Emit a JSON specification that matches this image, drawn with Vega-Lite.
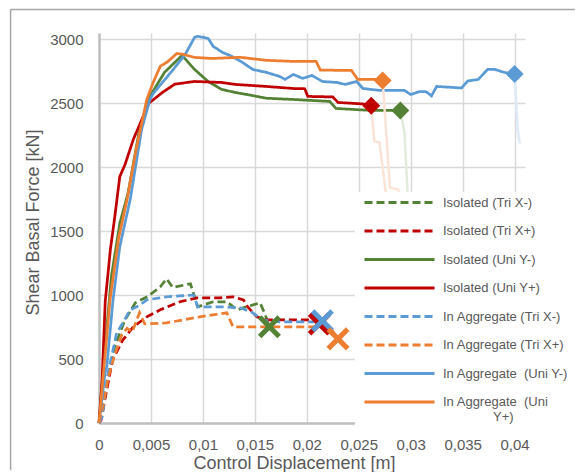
{
  "$schema": "https://vega.github.io/schema/vega-lite/v6.json",
  "autosize": {"type": "none"},
  "padding": {"left": 99, "top": 33, "right": 51, "bottom": 49},
  "width": 426,
  "height": 390,
  "background": "white",
  "config": {
    "view": {"stroke": null},
    "font": "Liberation Sans",
    "axis": {
      "grid": true,
      "gridColor": "#d9d9d9", "gridWidth": 1.5,
      "domainColor": "#bfbfbf", "domainWidth": 2.5,
      "ticks": false, "tickSize": 0,
      "labelFont": "Liberation Sans", "labelFontSize": 15, "labelColor": "#595959",
      "titleFont": "Liberation Sans", "titleFontSize": 18, "titleColor": "#595959", "titleFontWeight": "normal"
    }
  },
  "datasets": {
    "frame": [
      {"x": -0.00851, "x2": 0.0458, "y": 3234, "y2": -370}
    ],
    "lines": [
      {"s": "Isolated (Tri X-)", "x": 0, "y": 0},
      {"s": "Isolated (Tri X-)", "x": 0.0001, "y": 47},
      {"s": "Isolated (Tri X-)", "x": 0.0009, "y": 360},
      {"s": "Isolated (Tri X-)", "x": 0.0015, "y": 595},
      {"s": "Isolated (Tri X-)", "x": 0.0025, "y": 806},
      {"s": "Isolated (Tri X-)", "x": 0.0035, "y": 940},
      {"s": "Isolated (Tri X-)", "x": 0.0047, "y": 990},
      {"s": "Isolated (Tri X-)", "x": 0.0059, "y": 1065},
      {"s": "Isolated (Tri X-)", "x": 0.0065, "y": 1128},
      {"s": "Isolated (Tri X-)", "x": 0.0071, "y": 1060},
      {"s": "Isolated (Tri X-)", "x": 0.0088, "y": 1089},
      {"s": "Isolated (Tri X-)", "x": 0.0092, "y": 987},
      {"s": "Isolated (Tri X-)", "x": 0.0095, "y": 909},
      {"s": "Isolated (Tri X-)", "x": 0.011, "y": 948},
      {"s": "Isolated (Tri X-)", "x": 0.0123, "y": 948},
      {"s": "Isolated (Tri X-)", "x": 0.0133, "y": 885},
      {"s": "Isolated (Tri X-)", "x": 0.0142, "y": 909},
      {"s": "Isolated (Tri X-)", "x": 0.0155, "y": 940},
      {"s": "Isolated (Tri X-)", "x": 0.016, "y": 846},
      {"s": "Isolated (Tri X-)", "x": 0.0164, "y": 752},

      {"s": "Isolated (Tri X+)", "x": 0, "y": 0},
      {"s": "Isolated (Tri X+)", "x": 0.0002, "y": 23},
      {"s": "Isolated (Tri X+)", "x": 0.0008, "y": 282},
      {"s": "Isolated (Tri X+)", "x": 0.0013, "y": 493},
      {"s": "Isolated (Tri X+)", "x": 0.0023, "y": 650},
      {"s": "Isolated (Tri X+)", "x": 0.0033, "y": 752},
      {"s": "Isolated (Tri X+)", "x": 0.0046, "y": 830},
      {"s": "Isolated (Tri X+)", "x": 0.0059, "y": 885},
      {"s": "Isolated (Tri X+)", "x": 0.0078, "y": 948},
      {"s": "Isolated (Tri X+)", "x": 0.0094, "y": 979},
      {"s": "Isolated (Tri X+)", "x": 0.0116, "y": 979},
      {"s": "Isolated (Tri X+)", "x": 0.0129, "y": 987},
      {"s": "Isolated (Tri X+)", "x": 0.0139, "y": 963},
      {"s": "Isolated (Tri X+)", "x": 0.0143, "y": 909},
      {"s": "Isolated (Tri X+)", "x": 0.0152, "y": 830},
      {"s": "Isolated (Tri X+)", "x": 0.0161, "y": 807},
      {"s": "Isolated (Tri X+)", "x": 0.0206, "y": 807},
      {"s": "Isolated (Tri X+)", "x": 0.0212, "y": 775},

      {"s": "Isolated (Uni Y-)", "x": 0, "y": 0},
      {"s": "Isolated (Uni Y-)", "x": 0.0005, "y": 520},
      {"s": "Isolated (Uni Y-)", "x": 0.0012, "y": 1150},
      {"s": "Isolated (Uni Y-)", "x": 0.002, "y": 1560},
      {"s": "Isolated (Uni Y-)", "x": 0.0028, "y": 1800},
      {"s": "Isolated (Uni Y-)", "x": 0.0038, "y": 2250},
      {"s": "Isolated (Uni Y-)", "x": 0.0049, "y": 2554},
      {"s": "Isolated (Uni Y-)", "x": 0.0063, "y": 2742},
      {"s": "Isolated (Uni Y-)", "x": 0.008, "y": 2875},
      {"s": "Isolated (Uni Y-)", "x": 0.0092, "y": 2765},
      {"s": "Isolated (Uni Y-)", "x": 0.0105, "y": 2671},
      {"s": "Isolated (Uni Y-)", "x": 0.0118, "y": 2609},
      {"s": "Isolated (Uni Y-)", "x": 0.0131, "y": 2585},
      {"s": "Isolated (Uni Y-)", "x": 0.0145, "y": 2565},
      {"s": "Isolated (Uni Y-)", "x": 0.0161, "y": 2540},
      {"s": "Isolated (Uni Y-)", "x": 0.0187, "y": 2530},
      {"s": "Isolated (Uni Y-)", "x": 0.0222, "y": 2515},
      {"s": "Isolated (Uni Y-)", "x": 0.0228, "y": 2460},
      {"s": "Isolated (Uni Y-)", "x": 0.0258, "y": 2446},
      {"s": "Isolated (Uni Y-)", "x": 0.029, "y": 2444},

      {"s": "Isolated (Uni Y+)", "x": 0, "y": 0},
      {"s": "Isolated (Uni Y+)", "x": 0.0003, "y": 330},
      {"s": "Isolated (Uni Y+)", "x": 0.0006, "y": 950},
      {"s": "Isolated (Uni Y+)", "x": 0.0011, "y": 1360},
      {"s": "Isolated (Uni Y+)", "x": 0.0015, "y": 1600},
      {"s": "Isolated (Uni Y+)", "x": 0.002, "y": 1927},
      {"s": "Isolated (Uni Y+)", "x": 0.0025, "y": 2020},
      {"s": "Isolated (Uni Y+)", "x": 0.0033, "y": 2217},
      {"s": "Isolated (Uni Y+)", "x": 0.004, "y": 2350},
      {"s": "Isolated (Uni Y+)", "x": 0.0048, "y": 2500},
      {"s": "Isolated (Uni Y+)", "x": 0.0061, "y": 2585},
      {"s": "Isolated (Uni Y+)", "x": 0.0073, "y": 2650},
      {"s": "Isolated (Uni Y+)", "x": 0.0092, "y": 2671},
      {"s": "Isolated (Uni Y+)", "x": 0.0118, "y": 2663},
      {"s": "Isolated (Uni Y+)", "x": 0.0131, "y": 2648},
      {"s": "Isolated (Uni Y+)", "x": 0.0161, "y": 2632},
      {"s": "Isolated (Uni Y+)", "x": 0.0187, "y": 2616},
      {"s": "Isolated (Uni Y+)", "x": 0.0198, "y": 2614},
      {"s": "Isolated (Uni Y+)", "x": 0.0201, "y": 2554},
      {"s": "Isolated (Uni Y+)", "x": 0.0225, "y": 2550},
      {"s": "Isolated (Uni Y+)", "x": 0.023, "y": 2507},
      {"s": "Isolated (Uni Y+)", "x": 0.0254, "y": 2495},
      {"s": "Isolated (Uni Y+)", "x": 0.0262, "y": 2482},

      {"s": "In Aggregate (Tri X-)", "x": 0, "y": 0},
      {"s": "In Aggregate (Tri X-)", "x": 0.0003, "y": 47},
      {"s": "In Aggregate (Tri X-)", "x": 0.0008, "y": 360},
      {"s": "In Aggregate (Tri X-)", "x": 0.0017, "y": 705},
      {"s": "In Aggregate (Tri X-)", "x": 0.0022, "y": 770},
      {"s": "In Aggregate (Tri X-)", "x": 0.003, "y": 885},
      {"s": "In Aggregate (Tri X-)", "x": 0.0039, "y": 920},
      {"s": "In Aggregate (Tri X-)", "x": 0.0046, "y": 963},
      {"s": "In Aggregate (Tri X-)", "x": 0.0065, "y": 987},
      {"s": "In Aggregate (Tri X-)", "x": 0.0091, "y": 1002},
      {"s": "In Aggregate (Tri X-)", "x": 0.0095, "y": 909},
      {"s": "In Aggregate (Tri X-)", "x": 0.0116, "y": 909},
      {"s": "In Aggregate (Tri X-)", "x": 0.0136, "y": 901},
      {"s": "In Aggregate (Tri X-)", "x": 0.0148, "y": 862},
      {"s": "In Aggregate (Tri X-)", "x": 0.0157, "y": 807},
      {"s": "In Aggregate (Tri X-)", "x": 0.0174, "y": 791},
      {"s": "In Aggregate (Tri X-)", "x": 0.0206, "y": 791},
      {"s": "In Aggregate (Tri X-)", "x": 0.0215, "y": 800},

      {"s": "In Aggregate (Tri X+)", "x": 0, "y": 0},
      {"s": "In Aggregate (Tri X+)", "x": 0.0004, "y": 140},
      {"s": "In Aggregate (Tri X+)", "x": 0.0009, "y": 360},
      {"s": "In Aggregate (Tri X+)", "x": 0.0015, "y": 530},
      {"s": "In Aggregate (Tri X+)", "x": 0.0022, "y": 690},
      {"s": "In Aggregate (Tri X+)", "x": 0.0027, "y": 740},
      {"s": "In Aggregate (Tri X+)", "x": 0.0032, "y": 713},
      {"s": "In Aggregate (Tri X+)", "x": 0.0039, "y": 862},
      {"s": "In Aggregate (Tri X+)", "x": 0.0044, "y": 775},
      {"s": "In Aggregate (Tri X+)", "x": 0.0065, "y": 783},
      {"s": "In Aggregate (Tri X+)", "x": 0.0097, "y": 830},
      {"s": "In Aggregate (Tri X+)", "x": 0.0123, "y": 862},
      {"s": "In Aggregate (Tri X+)", "x": 0.0129, "y": 752},
      {"s": "In Aggregate (Tri X+)", "x": 0.0161, "y": 752},
      {"s": "In Aggregate (Tri X+)", "x": 0.0193, "y": 752},
      {"s": "In Aggregate (Tri X+)", "x": 0.0222, "y": 752},
      {"s": "In Aggregate (Tri X+)", "x": 0.023, "y": 658},

      {"s": "In Aggregate  (Uni Y-)", "x": 0, "y": 0},
      {"s": "In Aggregate  (Uni Y-)", "x": 0.0003, "y": 200},
      {"s": "In Aggregate  (Uni Y-)", "x": 0.00058, "y": 392},
      {"s": "In Aggregate  (Uni Y-)", "x": 0.00075, "y": 440},
      {"s": "In Aggregate  (Uni Y-)", "x": 0.00135, "y": 963},
      {"s": "In Aggregate  (Uni Y-)", "x": 0.002, "y": 1380},
      {"s": "In Aggregate  (Uni Y-)", "x": 0.003, "y": 1747},
      {"s": "In Aggregate  (Uni Y-)", "x": 0.0041, "y": 2295},
      {"s": "In Aggregate  (Uni Y-)", "x": 0.0049, "y": 2530},
      {"s": "In Aggregate  (Uni Y-)", "x": 0.0052, "y": 2575},
      {"s": "In Aggregate  (Uni Y-)", "x": 0.0061, "y": 2663},
      {"s": "In Aggregate  (Uni Y-)", "x": 0.007, "y": 2750},
      {"s": "In Aggregate  (Uni Y-)", "x": 0.0083, "y": 2883},
      {"s": "In Aggregate  (Uni Y-)", "x": 0.0092, "y": 3016},
      {"s": "In Aggregate  (Uni Y-)", "x": 0.0095, "y": 3024},
      {"s": "In Aggregate  (Uni Y-)", "x": 0.0105, "y": 3008},
      {"s": "In Aggregate  (Uni Y-)", "x": 0.011, "y": 2945},
      {"s": "In Aggregate  (Uni Y-)", "x": 0.0119, "y": 2898},
      {"s": "In Aggregate  (Uni Y-)", "x": 0.0128, "y": 2867},
      {"s": "In Aggregate  (Uni Y-)", "x": 0.0138, "y": 2820},
      {"s": "In Aggregate  (Uni Y-)", "x": 0.0148, "y": 2765},
      {"s": "In Aggregate  (Uni Y-)", "x": 0.0161, "y": 2742},
      {"s": "In Aggregate  (Uni Y-)", "x": 0.0174, "y": 2710},
      {"s": "In Aggregate  (Uni Y-)", "x": 0.0179, "y": 2687},
      {"s": "In Aggregate  (Uni Y-)", "x": 0.0187, "y": 2726},
      {"s": "In Aggregate  (Uni Y-)", "x": 0.0196, "y": 2695},
      {"s": "In Aggregate  (Uni Y-)", "x": 0.0205, "y": 2718},
      {"s": "In Aggregate  (Uni Y-)", "x": 0.0215, "y": 2671},
      {"s": "In Aggregate  (Uni Y-)", "x": 0.0229, "y": 2663},
      {"s": "In Aggregate  (Uni Y-)", "x": 0.0237, "y": 2648},
      {"s": "In Aggregate  (Uni Y-)", "x": 0.0248, "y": 2671},
      {"s": "In Aggregate  (Uni Y-)", "x": 0.0254, "y": 2616},
      {"s": "In Aggregate  (Uni Y-)", "x": 0.027, "y": 2601},
      {"s": "In Aggregate  (Uni Y-)", "x": 0.0294, "y": 2601},
      {"s": "In Aggregate  (Uni Y-)", "x": 0.03, "y": 2569},
      {"s": "In Aggregate  (Uni Y-)", "x": 0.0309, "y": 2593},
      {"s": "In Aggregate  (Uni Y-)", "x": 0.0315, "y": 2590},
      {"s": "In Aggregate  (Uni Y-)", "x": 0.032, "y": 2558},
      {"s": "In Aggregate  (Uni Y-)", "x": 0.0325, "y": 2632},
      {"s": "In Aggregate  (Uni Y-)", "x": 0.0349, "y": 2620},
      {"s": "In Aggregate  (Uni Y-)", "x": 0.0355, "y": 2675},
      {"s": "In Aggregate  (Uni Y-)", "x": 0.0365, "y": 2687},
      {"s": "In Aggregate  (Uni Y-)", "x": 0.0374, "y": 2765},
      {"s": "In Aggregate  (Uni Y-)", "x": 0.0381, "y": 2765},
      {"s": "In Aggregate  (Uni Y-)", "x": 0.039, "y": 2742},
      {"s": "In Aggregate  (Uni Y-)", "x": 0.04, "y": 2730},

      {"s": "In Aggregate  (Uni Y+)", "x": 0, "y": 0},
      {"s": "In Aggregate  (Uni Y+)", "x": 0.00048, "y": 440},
      {"s": "In Aggregate  (Uni Y+)", "x": 0.00106, "y": 963},
      {"s": "In Aggregate  (Uni Y+)", "x": 0.0019, "y": 1450},
      {"s": "In Aggregate  (Uni Y+)", "x": 0.0027, "y": 1747},
      {"s": "In Aggregate  (Uni Y+)", "x": 0.0036, "y": 2150},
      {"s": "In Aggregate  (Uni Y+)", "x": 0.0046, "y": 2530},
      {"s": "In Aggregate  (Uni Y+)", "x": 0.0052, "y": 2660},
      {"s": "In Aggregate  (Uni Y+)", "x": 0.0059, "y": 2790},
      {"s": "In Aggregate  (Uni Y+)", "x": 0.0066, "y": 2825},
      {"s": "In Aggregate  (Uni Y+)", "x": 0.0075, "y": 2890},
      {"s": "In Aggregate  (Uni Y+)", "x": 0.008, "y": 2885},
      {"s": "In Aggregate  (Uni Y+)", "x": 0.0092, "y": 2859},
      {"s": "In Aggregate  (Uni Y+)", "x": 0.0109, "y": 2851},
      {"s": "In Aggregate  (Uni Y+)", "x": 0.0136, "y": 2860},
      {"s": "In Aggregate  (Uni Y+)", "x": 0.0161, "y": 2836},
      {"s": "In Aggregate  (Uni Y+)", "x": 0.0187, "y": 2828},
      {"s": "In Aggregate  (Uni Y+)", "x": 0.0209, "y": 2828},
      {"s": "In Aggregate  (Uni Y+)", "x": 0.0213, "y": 2760},
      {"s": "In Aggregate  (Uni Y+)", "x": 0.0243, "y": 2757},
      {"s": "In Aggregate  (Uni Y+)", "x": 0.0249, "y": 2687},
      {"s": "In Aggregate  (Uni Y+)", "x": 0.0267, "y": 2687},
      {"s": "In Aggregate  (Uni Y+)", "x": 0.0273, "y": 2679}
    ],
    "collapse": [
      {"s": "Isolated (Uni Y-)", "x": 0.029, "y": 2444},
      {"s": "Isolated (Uni Y-)", "x": 0.0294, "y": 2272},
      {"s": "Isolated (Uni Y-)", "x": 0.0297, "y": 1801},
      {"s": "Isolated (Uni Y-)", "x": 0.03, "y": 1000},
      {"s": "Isolated (Uni Y-)", "x": 0.0302, "y": 500},
      {"s": "Isolated (Uni Y+)", "x": 0.0262, "y": 2482},
      {"s": "Isolated (Uni Y+)", "x": 0.0265, "y": 2201},
      {"s": "Isolated (Uni Y+)", "x": 0.027, "y": 2193},
      {"s": "Isolated (Uni Y+)", "x": 0.0276, "y": 1801},
      {"s": "Isolated (Uni Y+)", "x": 0.028, "y": 1200},
      {"s": "Isolated (Uni Y+)", "x": 0.0283, "y": 600},
      {"s": "In Aggregate  (Uni Y-)", "x": 0.04, "y": 2730},
      {"s": "In Aggregate  (Uni Y-)", "x": 0.0403, "y": 2295},
      {"s": "In Aggregate  (Uni Y-)", "x": 0.0405, "y": 2185},
      {"s": "In Aggregate  (Uni Y+)", "x": 0.0273, "y": 2679},
      {"s": "In Aggregate  (Uni Y+)", "x": 0.028, "y": 1841},
      {"s": "In Aggregate  (Uni Y+)", "x": 0.0288, "y": 1825},
      {"s": "In Aggregate  (Uni Y+)", "x": 0.0289, "y": 1801},
      {"s": "In Aggregate  (Uni Y+)", "x": 0.0292, "y": 1200},
      {"s": "In Aggregate  (Uni Y+)", "x": 0.0295, "y": 600}
    ],
    "diamonds": [
      {"s": "Isolated (Uni Y+)", "x": 0.0262, "y": 2482},
      {"s": "In Aggregate  (Uni Y+)", "x": 0.0273, "y": 2679},
      {"s": "Isolated (Uni Y-)", "x": 0.029, "y": 2444},
      {"s": "In Aggregate  (Uni Y-)", "x": 0.04, "y": 2730}
    ],
    "crosses": [
      {"s": "Isolated (Tri X-)", "x": 0.0164, "y": 752},
      {"s": "Isolated (Tri X+)", "x": 0.0212, "y": 775},
      {"s": "In Aggregate (Tri X-)", "x": 0.0215, "y": 800},
      {"s": "In Aggregate (Tri X+)", "x": 0.023, "y": 658}
    ]
  },
  "encoding": {
    "x": {"field": "x", "type": "quantitative", "scale": {"domain": [0, 0.041], "nice": false, "zero": false},
      "axis": {"grid": true, "values": [0, 0.005, 0.01, 0.015, 0.02, 0.025, 0.03, 0.035, 0.04],
               "labelExpr": "replace(format(datum.value, '.3~f'), '.', ',')", "labelFlush": false,
               "labelPadding": 14, "title": "Control Displacement [m]",
               "titleX": 195, "titleY": 45, "titleBaseline": "alphabetic", "titleAlign": "center"}},
    "y": {"field": "y", "type": "quantitative", "scale": {"domain": [0, 3050], "nice": false, "zero": false},
      "axis": {"grid": true, "values": [0, 500, 1000, 1500, 2000, 2500, 3000], "format": "d",
               "labelPadding": 16, "title": "Shear Basal Force [kN]",
               "titleX": -61, "titleY": 189, "titleAngle": 270, "titleBaseline": "alphabetic", "titleAlign": "center"}}
  },
  "layer": [
    {
      "data": {"name": "frame"},
      "mark": {"type": "rule", "stroke": "#a6a6a6", "strokeWidth": 1.5},
      "encoding": {
        "y2": {"field": "y2"}
      }
    },
    {
      "data": {"name": "frame"},
      "mark": {"type": "rule", "stroke": "#a6a6a6", "strokeWidth": 1.5},
      "encoding": {
        "x2": {"field": "x2"}
      }
    },
    {
      "data": {"name": "lines"},
      "mark": {"type": "line", "strokeWidth": 2.75},
      "encoding": {
        "color": {"field": "s", "type": "nominal",
          "scale": {"domain": ["Isolated (Tri X-)", "Isolated (Tri X+)", "Isolated (Uni Y-)", "Isolated (Uni Y+)", "In Aggregate (Tri X-)", "In Aggregate (Tri X+)", "In Aggregate  (Uni Y-)", "In Aggregate  (Uni Y+)"],
                    "range": ["#548235", "#c00000", "#548235", "#c00000", "#5b9bd5", "#ed7d31", "#5b9bd5", "#ed7d31"]},
          "legend": {
            "title": null, "orient": "none", "legendX": 256, "legendY": 159, "zindex": 1,
            "fillColor": "white", "padding": 2, "symbolType": "M-5,0L5,0", "symbolSize": 196,
            "symbolStrokeWidth": 3, "symbolOffset": 34, "rowPadding": 12.5,
            "labelFont": "Liberation Sans", "labelFontSize": 13, "labelColor": "#595959", "labelOffset": 35, "labelLimit": 0,
            "labelExpr": "datum.label == 'In Aggregate  (Uni Y+)' ? ['In Aggregate\u00a0 (Uni', '\u2800\u2800\u2800\u2800\u2800Y+)'] : replace(datum.label, '  ', '\u00a0 ')"
          }},
        "strokeDash": {"field": "s", "type": "nominal",
          "scale": {"domain": ["Isolated (Tri X-)", "Isolated (Tri X+)", "Isolated (Uni Y-)", "Isolated (Uni Y+)", "In Aggregate (Tri X-)", "In Aggregate (Tri X+)", "In Aggregate  (Uni Y-)", "In Aggregate  (Uni Y+)"],
                    "range": [[8, 4], [8, 4], [1, 0], [1, 0], [8, 4], [8, 4], [1, 0], [1, 0]]}}
      }
    },
    {
      "data": {"name": "collapse"},
      "transform": [{"filter": "datum.s == 'Isolated (Uni Y-)'"}],
      "mark": {"type": "line", "strokeWidth": 2.5, "color": "#e2ecdb"}
    },
    {
      "data": {"name": "collapse"},
      "transform": [{"filter": "datum.s == 'Isolated (Uni Y+)'"}],
      "mark": {"type": "line", "strokeWidth": 2.5, "color": "#fbe3d6"}
    },
    {
      "data": {"name": "collapse"},
      "transform": [{"filter": "datum.s == 'In Aggregate  (Uni Y-)'"}],
      "mark": {"type": "line", "strokeWidth": 2.5, "color": "#deebf7"}
    },
    {
      "data": {"name": "collapse"},
      "transform": [{"filter": "datum.s == 'In Aggregate  (Uni Y+)'"}],
      "mark": {"type": "line", "strokeWidth": 2.5, "color": "#fbe3d6"}
    },
    {
      "data": {"name": "diamonds"},
      "mark": {"type": "point", "shape": "diamond", "filled": true, "size": 324, "opacity": 1},
      "encoding": {
        "color": {"field": "s", "type": "nominal"}
      }
    },
    {
      "data": {"name": "crosses"},
      "mark": {"type": "point", "shape": "M-1,-1L1,1M-1,1L1,-1", "filled": false, "size": 380, "strokeWidth": 5, "opacity": 1},
      "encoding": {
        "color": {"field": "s", "type": "nominal"}
      }
    }
  ]
}
